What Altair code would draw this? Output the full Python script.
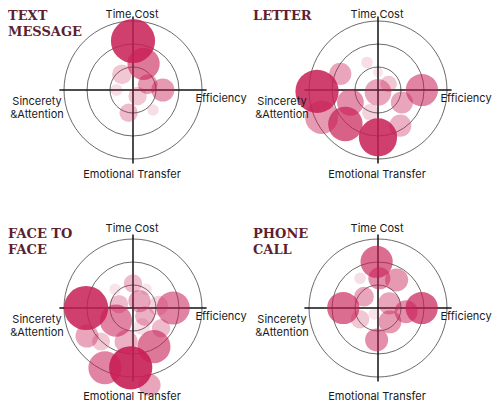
import altair as alt
import pandas as pd

PX = 23  # pixels per ring unit
CRIMSON = "#C81E55"

titles = ["TEXT\nMESSAGE", "LETTER", "FACE TO\nFACE", "PHONE\nCALL"]
rings = [1, 2, 3]
axis_len = 3.2

# bubbles: x (Sincerety <-> Efficiency), y (Emotional Transfer <-> Time Cost),
# radius and strength, in ring units
text_x = [0.0, 0.46, -0.48, 0.64, 1.30, 0.20, -0.72, -0.19, 0.87]
text_y = [2.13, 1.14, 0.68, 0.25, 0.0, -0.26, 0.0, -0.99, -0.87]
text_r = [0.96, 0.70, 0.43, 0.43, 0.50, 0.40, 0.26, 0.40, 0.25]
text_a = [0.85, 0.6, 0.25, 0.45, 0.45, 0.25, 0.15, 0.3, 0.15]

letter_x = [-2.65, 0.0, 1.91, -1.42, -2.45, -1.20, -1.64, 0.0, 0.46, 1.04, 0.97, -0.48, 0.0, -0.33]
letter_y = [-0.06, -2.06, 0.0, -1.48, -1.19, -0.54, 0.70, -0.10, 0.26, -0.54, -1.55, 1.20, 0.77, -0.97]
letter_r = [0.94, 0.83, 0.70, 0.75, 0.72, 0.58, 0.48, 0.58, 0.36, 0.48, 0.48, 0.25, 0.22, 0.36]
letter_a = [0.85, 0.85, 0.55, 0.7, 0.45, 0.5, 0.4, 0.4, 0.25, 0.4, 0.35, 0.15, 0.12, 0.2]

face_x = [-2.04, -0.10, 1.75, -1.22, 0.91, -0.74, 0.72, -2.0, -1.39, -0.30,
          0.28, 0.52, -0.61, 0.0, -0.78, 0.57, 1.22, 1.10, 0.39]
face_y = [0.0, -2.6, 0.0, -2.6, -1.68, -0.55, -3.35, -1.22, -1.46, -1.46,
          0.30, -0.35, 0.17, 1.07, 0.81, 0.81, -0.88, 0.1, -0.81]
face_r = [0.96, 0.94, 0.72, 0.72, 0.72, 0.70, 0.48, 0.50, 0.39, 0.50,
          0.48, 0.43, 0.40, 0.40, 0.25, 0.25, 0.40, 0.43, 0.36]
face_a = [0.85, 0.9, 0.55, 0.55, 0.6, 0.55, 0.4, 0.4, 0.25, 0.35,
          0.4, 0.35, 0.3, 0.3, 0.12, 0.12, 0.3, 0.2, 0.15]

phone_x = [-0.06, 1.90, -1.51, 0.06, 0.81, 1.22, 0.49, 0.52, -0.06, -0.61, -0.78, -0.78, -0.17]
phone_y = [2.01, 0.0, 0.0, 1.29, 1.22, -0.16, 0.20, -0.60, -1.39, 0.49, -0.49, 1.29, -0.26]
phone_r = [0.70, 0.70, 0.70, 0.48, 0.50, 0.50, 0.48, 0.50, 0.50, 0.43, 0.40, 0.25, 0.25]
phone_a = [0.65, 0.7, 0.65, 0.5, 0.45, 0.5, 0.4, 0.45, 0.5, 0.4, 0.25, 0.15, 0.12]

bubbles = [
    (text_x, text_y, text_r, text_a),
    (letter_x, letter_y, letter_r, letter_a),
    (face_x, face_y, face_r, face_a),
    (phone_x, phone_y, phone_r, phone_a),
]

size_scale = alt.Scale(type="pow", exponent=2, domain=[0, 3], range=[0, (6 * PX) ** 2])


def panel(i, width, height, tc_px, et_px):
    cx, cy = 125, 82  # radar centre inside the panel (px)
    xsc = alt.Scale(domain=[-cx / PX, (width - cx) / PX], nice=False, zero=False)
    ysc = alt.Scale(domain=[(cy - height) / PX, cy / PX], nice=False, zero=False)

    def X(f):
        return alt.X(f, type="quantitative", scale=xsc, axis=None)

    def Y(f):
        return alt.Y(f, type="quantitative", scale=ysc, axis=None)

    ring_df = pd.DataFrame({"x": 0, "y": 0, "r": rings})
    ring_layer = alt.Chart(ring_df).mark_point(
        shape="circle", filled=False, stroke="#444", strokeWidth=0.8, opacity=1
    ).encode(x=X("x"), y=Y("y"), size=alt.Size("r", scale=size_scale, legend=None))

    axes_df = pd.DataFrame({"x1": [-axis_len, 0], "x2": [axis_len, 0],
                            "y1": [0, -axis_len], "y2": [0, axis_len]})
    axes_layer = alt.Chart(axes_df).mark_rule(color="#111", strokeWidth=1.5).encode(
        x=X("x1"), x2="x2", y=Y("y1"), y2="y2"
    )

    bx, by, br, ba = bubbles[i]
    bub_df = pd.DataFrame({"x": bx, "y": by, "r": br, "a": ba})
    bub_layer = alt.Chart(bub_df).mark_circle(color=CRIMSON).encode(
        x=X("x"), y=Y("y"),
        size=alt.Size("r", scale=size_scale, legend=None),
        opacity=alt.Opacity("a", scale=None, legend=None),
    )

    lab_df = pd.DataFrame({
        "t": ["Time Cost", "Emotional Transfer", "Sincerety\n&Attention"],
        "x": [-1 / PX, -1 / PX, -96 / PX],
        "y": [tc_px / PX, -et_px / PX, -12 / PX],
    })
    lab_layer = alt.Chart(lab_df).mark_text(
        font="Inter", fontSize=11, color="#1a1a1a", align="center", baseline="middle",
        lineBreak="\n", lineHeight=13
    ).encode(x=X("x"), y=Y("y"), text="t")

    eff_df = pd.DataFrame({"t": ["Efficiency"], "x": [62.5 / PX], "y": [-9 / PX]})
    eff_layer = alt.Chart(eff_df).mark_text(
        font="Inter", fontSize=11, color="#1a1a1a", align="left", baseline="middle"
    ).encode(x=X("x"), y=Y("y"), text="t")

    title_df = pd.DataFrame({"t": [titles[i]], "x": [-cx / PX], "y": [cy / PX]})
    title_layer = alt.Chart(title_df).mark_text(
        font="DejaVu Serif", fontWeight="bold", fontSize=13, color="#5e1f30",
        align="left", baseline="top", lineBreak="\n", lineHeight=15.5, dy=2
    ).encode(x=X("x"), y=Y("y"), text="t")

    return alt.layer(ring_layer, axes_layer, bub_layer, lab_layer, eff_layer, title_layer).properties(
        width=width, height=height
    )


chart = alt.concat(
    panel(0, 245, 218, 75, 85), panel(1, 239, 218, 75, 85),
    panel(2, 245, 174, 79, 89), panel(3, 239, 174, 79, 89),
    columns=2, spacing=0, bounds="flush", align="each",
).properties(padding=0, background="white").configure_view(stroke=None)

chart.save("out.html", embed_options={"renderer": "svg", "actions": False})
